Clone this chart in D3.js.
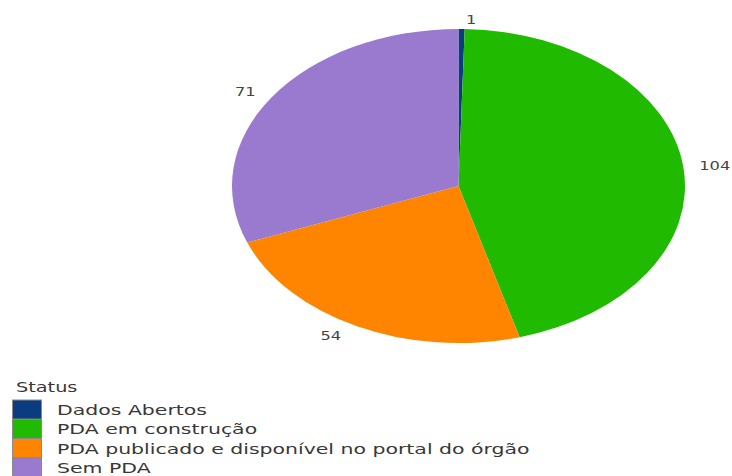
<!DOCTYPE html>
<html><head><meta charset="utf-8">
<script src="https://cdn.jsdelivr.net/npm/d3@7"></script>
<style>body{margin:0;background:#fff}svg{display:block}text{font-family:"DejaVu Sans",Verdana,sans-serif}</style>
</head><body>
<svg id="c" width="732" height="476"></svg>
<script>
const categories = ["Dados Abertos", "PDA em construção", "PDA publicado e disponível no portal do órgão", "Sem PDA"];
const values = [1, 104, 54, 71];
const colors = ["#0b3c7f", "#20bb00", "#ff8500", "#9a7ace"];
const legendTitle = "Status";

const svg = d3.select("#c");
const cx = 458.5, cy = 186, rx = 226.5, ry = 157;

const pie = d3.pie().sort(null).value(d => d)(values);
const arc = d3.arc().innerRadius(0).outerRadius(ry);
const g = svg.append("g").attr("transform", `translate(${cx},${cy}) scale(${rx/ry},1)`);
g.selectAll("path").data(pie).join("path")
  .attr("d", arc).attr("fill", (d,i) => colors[i]);

// labels
const lblSx = 1.25;
pie.forEach((d,i) => {
  const a = (d.startAngle + d.endAngle)/2;
  const s = Math.sin(a), c = Math.cos(a);
  const ex = cx + rx*s, ey = cy - ry*c;
  const sign = s >= 0 ? 1 : -1;
  const dx = sign*(4 + 12*Math.min(1, Math.abs(s)*3));
  const dy = -10*c;
  const lg = svg.append("g").attr("transform", `translate(${ex+dx},${ey+dy}) scale(${lblSx},1)`);
  lg.append("text").attr("x",0).attr("y",0)
    .attr("dy","0.36em")
    .attr("text-anchor", sign>0 ? "start" : "end")
    .attr("font-size", 13).attr("fill", "#444")
    .text(values[i]);
});

// legend
const legSx = 1.41;
const lg0 = svg.append("g").attr("transform", `translate(16,392) scale(1.33,1)`);
lg0.append("text").attr("font-size", 14.5).attr("fill","#383838").text(legendTitle);
const rowY = d3.scaleBand().domain(categories).range([400, 477]).padding(0);
categories.forEach((cat,i) => {
  const y = rowY(cat), h = rowY.bandwidth();
  svg.append("rect").attr("x",12.5).attr("y",y).attr("width",29).attr("height",h)
    .attr("fill", colors[i]).attr("stroke","#8a8a8a").attr("stroke-width",1);
  svg.append("g").attr("transform", `translate(57,${y + h/2 + 5.5}) scale(${legSx},1)`)
    .append("text").attr("font-size", 14.5).attr("fill","#383838").text(cat);
});
</script>
</body></html>
